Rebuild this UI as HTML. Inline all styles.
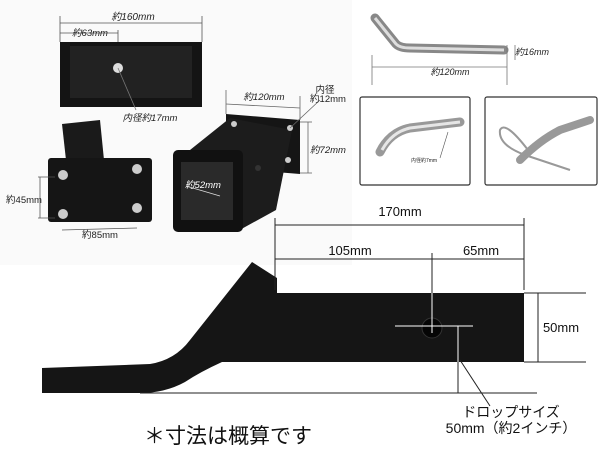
<!DOCTYPE html>
<html><head><meta charset="utf-8">
<style>
html,body{margin:0;padding:0;background:#fff;}
body{width:600px;height:450px;overflow:hidden;position:relative;font-family:"Liberation Sans","Noto Sans CJK JP",sans-serif;}
svg{position:absolute;left:0;top:0;}
</style></head><body>
<svg width="600" height="450" viewBox="0 0 600 450" xmlns="http://www.w3.org/2000/svg" font-family="Liberation Sans, Noto Sans CJK JP, sans-serif">
<rect x="0" y="0" width="352" height="265" fill="#fafafa"/>
<!-- top block -->
<g stroke="#555" stroke-width="0.8" fill="none">
<line x1="60" y1="23" x2="202" y2="23"/><line x1="60" y1="16" x2="60" y2="42"/><line x1="202" y1="16" x2="202" y2="42"/>
<line x1="60" y1="33" x2="118" y2="33"/><line x1="118" y1="30" x2="118" y2="62"/>
</g>
<rect x="60" y="42" width="142" height="65" fill="#141414"/>
<rect x="70" y="46" width="122" height="52" fill="#222"/>
<circle cx="118" cy="68" r="5" fill="#ddd"/>
<line x1="118" y1="68" x2="136" y2="110" stroke="#777" stroke-width="0.8"/>
<text x="133" y="20" font-size="10" font-style="italic" text-anchor="middle" fill="#222">約160mm</text>
<text x="90" y="36" font-size="9.5" font-style="italic" text-anchor="middle" fill="#222">約63mm</text>
<text x="150" y="121" font-size="9.5" font-style="italic" text-anchor="middle" fill="#222">内径約17mm</text>
<!-- bottom-left block -->
<polygon points="62,124 100,120 104,160 66,160" fill="#1a1a1a"/>
<rect x="48" y="158" width="104" height="64" rx="3" fill="#151515"/>
<circle cx="63" cy="175" r="5" fill="#ccc"/><circle cx="137" cy="169" r="5" fill="#ccc"/>
<circle cx="63" cy="214" r="5" fill="#ccc"/><circle cx="137" cy="208" r="5" fill="#ccc"/>
<g stroke="#555" stroke-width="0.8"><line x1="38" y1="177" x2="55" y2="177"/><line x1="38" y1="218" x2="55" y2="218"/><line x1="40" y1="177" x2="40" y2="218"/>
<line x1="62" y1="230" x2="137" y2="228"/></g>
<text x="24" y="203" font-size="9.5" text-anchor="middle" fill="#222">約45mm</text>
<text x="100" y="238" font-size="9.5" text-anchor="middle" fill="#222">約85mm</text>
<!-- right block -->
<polygon points="226,114 300,120 300,174 226,168" fill="#151515"/>
<polygon points="190,150 230,118 292,130 276,210 236,232" fill="#1c1c1c"/>
<rect x="173" y="150" width="70" height="82" rx="5" fill="#111"/>
<rect x="181" y="162" width="52" height="58" fill="#2a2a2a"/>
<circle cx="234" cy="124" r="3" fill="#ccc"/><circle cx="290" cy="128" r="3" fill="#ccc"/><circle cx="288" cy="160" r="3" fill="#ccc"/>
<circle cx="258" cy="168" r="3" fill="#333"/>
<g stroke="#666" stroke-width="0.8"><line x1="226" y1="104" x2="300" y2="108"/><line x1="226" y1="90" x2="226" y2="114"/><line x1="300" y1="96" x2="300" y2="120"/>
<line x1="308" y1="122" x2="308" y2="173"/><line x1="300" y1="122" x2="312" y2="122"/><line x1="300" y1="173" x2="312" y2="173"/>
<line x1="186" y1="186" x2="220" y2="196" stroke="#ddd"/><line x1="290" y1="128" x2="320" y2="100"/></g>
<text x="264" y="100" font-size="9.5" font-style="italic" text-anchor="middle" fill="#222">約120mm</text>
<text x="325" y="93" font-size="9.5" text-anchor="middle" fill="#222">内径</text>
<text x="328" y="102" font-size="9.5" text-anchor="middle" fill="#222">約12mm</text>
<text x="328" y="153" font-size="9.5" font-style="italic" text-anchor="middle" fill="#222">約72mm</text>
<text x="203" y="188" font-size="9.5" font-style="italic" text-anchor="middle" fill="#fff">約52mm</text>
<!-- top pin -->
<path d="M375,18 L396,44 Q400,48 410,48 L504,50" stroke="#888" stroke-width="9" fill="none" stroke-linecap="round"/>
<path d="M375,18 L396,44 Q400,48 410,48 L504,50" stroke="#ddd" stroke-width="3" fill="none"/>
<g stroke="#777" stroke-width="0.8"><line x1="372" y1="67" x2="507" y2="67"/><line x1="372" y1="55" x2="372" y2="85"/><line x1="507" y1="45" x2="507" y2="85"/>
<line x1="515" y1="45" x2="515" y2="60"/></g>
<text x="450" y="75" font-size="9" font-style="italic" text-anchor="middle" fill="#222">約120mm</text>
<text x="532" y="55" font-size="9" font-style="italic" text-anchor="middle" fill="#222">約16mm</text>
<!-- pin panels -->
<rect x="360" y="97" width="110" height="88" rx="2" fill="#fff" stroke="#333" stroke-width="1.2"/>
<path d="M380,152 Q390,132 410,128 L460,122" stroke="#999" stroke-width="9" fill="none" stroke-linecap="round"/>
<path d="M382,150 Q392,132 410,128 L460,122" stroke="#e6e6e6" stroke-width="3" fill="none"/>
<line x1="448" y1="132" x2="440" y2="158" stroke="#555" stroke-width="0.6"/>
<text x="424" y="162" font-size="5" text-anchor="middle" fill="#222">内径約7mm</text>
<rect x="485" y="97" width="112" height="88" rx="2" fill="#fff" stroke="#333" stroke-width="1.2"/>
<path d="M520,160 Q540,140 560,130 L590,120" stroke="#999" stroke-width="8" fill="none" stroke-linecap="round"/>
<path d="M528,150 Q505,120 500,130 Q498,145 525,155 L570,170" stroke="#999" stroke-width="2" fill="none"/>
<!-- main bar -->
<path d="M42,368 L150,364 Q175,360 190,340 L252,262 L277,278 L277,293 L524,293 L524,362 L222,362 Q200,372 185,382 Q165,393 140,393 L42,393 Z" fill="#151515"/>
<circle cx="432" cy="328" r="10" fill="#050505" stroke="#333"/>
<g stroke="#222" stroke-width="1">
<line x1="275" y1="225" x2="524" y2="225"/><line x1="275" y1="259" x2="524" y2="259"/>
<line x1="275" y1="218" x2="275" y2="290"/><line x1="524" y1="218" x2="524" y2="290"/>
<line x1="524" y1="293" x2="586" y2="293"/><line x1="524" y1="362" x2="586" y2="362"/>
<line x1="538" y1="293" x2="538" y2="362"/>
<line x1="140" y1="393" x2="537" y2="393"/>
<line x1="458" y1="362" x2="458" y2="393"/>
<line x1="460" y1="360" x2="490" y2="406"/>
</g>
<g stroke="#fff" stroke-width="1"><line x1="432" y1="293" x2="432" y2="333"/><line x1="395" y1="326" x2="473" y2="326"/><line x1="458" y1="326" x2="458" y2="362"/></g>
<line x1="432" y1="253" x2="432" y2="293" stroke="#222"/>
<text x="400" y="216" font-size="13" text-anchor="middle" fill="#111">170mm</text>
<text x="350" y="255" font-size="13" text-anchor="middle" fill="#111">105mm</text>
<text x="481" y="255" font-size="13" text-anchor="middle" fill="#111">65mm</text>
<text x="561" y="332" font-size="13" text-anchor="middle" fill="#111">50mm</text>
<text x="511" y="417" font-size="14" text-anchor="middle" fill="#111">ドロップサイズ</text>
<text x="511" y="433" font-size="14" text-anchor="middle" fill="#111">50mm（約2インチ）</text>
<text x="228" y="443" font-size="21" text-anchor="middle" fill="#111">＊寸法は概算です</text>
</svg>
</body></html>
